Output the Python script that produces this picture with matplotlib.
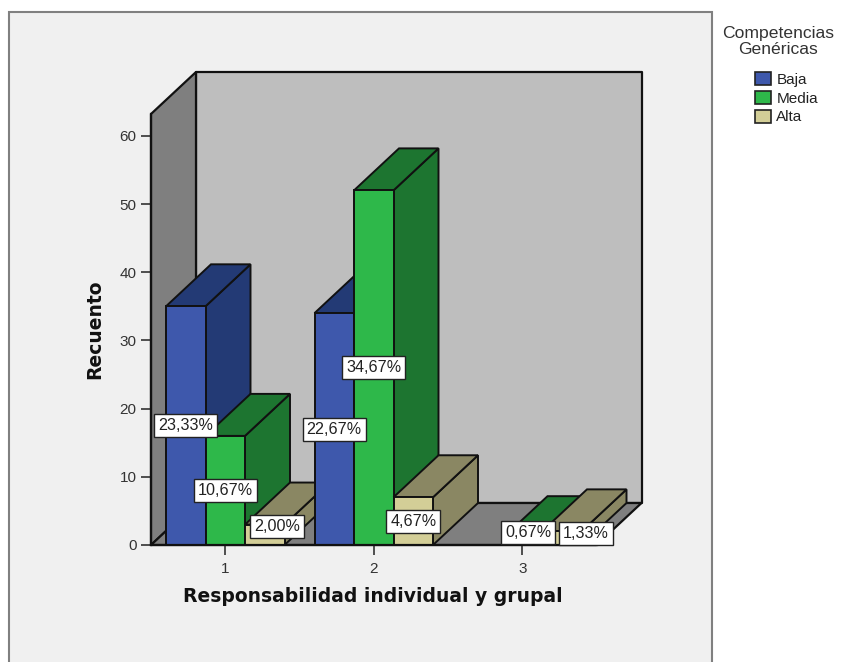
import matplotlib
matplotlib.use("Agg")
import matplotlib.pyplot as plt
from matplotlib.patches import Polygon, Rectangle, Patch

plt.rcParams['font.family'] = ['Liberation Sans', 'DejaVu Sans']

categories = [1, 2, 3]
series = ["Baja", "Media", "Alta"]
baja = [35, 34, 0]
media = [16, 52, 1]
alta = [3, 7, 2]
baja_pct = ["23,33%", "22,67%", ""]
media_pct = ["10,67%", "34,67%", "0,67%"]
alta_pct = ["2,00%", "4,67%", "1,33%"]
yticks = [0, 10, 20, 30, 40, 50, 60]

front = ["#3E58AC", "#2EB84A", "#D3CE97"]
side = ["#233A75", "#1D7530", "#8A8763"]

W, H = 851, 662
fig = plt.figure(figsize=(W / 100, H / 100), dpi=100, facecolor="white")

# outer chart frame, the bottom edge is cut off in the original
fig.add_artist(Rectangle((9 / W, 1 - 670 / H), 703 / W, 658 / H, transform=fig.transFigure,
                         facecolor="#F0F0F0", edgecolor="#808080", lw=1.5, zorder=-5))

ax = fig.add_axes([151 / W, 1 - 545 / H, 445.5 / W, 431 / H])
ax.set_xlim(0.5, 3.5)
ax.set_ylim(0, 63.2)
ax.patch.set_visible(False)

# depth of the fake 3d box, in data units
dx = 45 / 148.5
dy = 42 / 6.82
x0, x1, top = 0.5, 3.5, 63.2
edge = dict(edgecolor="#111111", lw=1.6, clip_on=False, joinstyle="round")

ax.add_patch(Polygon([(x0 + dx, dy), (x1 + dx, dy), (x1 + dx, top + dy), (x0 + dx, top + dy)],
                     facecolor="#BEBEBE", zorder=1, **edge))
ax.add_patch(Polygon([(x0, 0), (x0 + dx, dy), (x0 + dx, top + dy), (x0, top)],
                     facecolor="#7F7F7F", zorder=1, **edge))
ax.add_patch(Polygon([(x0, 0), (x1, 0), (x1 + dx, dy), (x0 + dx, dy)],
                     facecolor="#7F7F7F", zorder=1, **edge))

bw = 39.5 / 148.5
z = 2
for i, cat in enumerate(categories):
    for j, vals in enumerate([baja, media, alta]):
        v = vals[i]
        if v == 0:
            continue
        l = cat + (j - 1.5) * bw
        r = l + bw
        bar_edge = dict(edgecolor="#111111", lw=1.4, clip_on=False, zorder=z)
        ax.add_patch(Polygon([(r, 0), (r + dx, dy), (r + dx, v + dy), (r, v)], facecolor=side[j], **bar_edge))
        ax.add_patch(Polygon([(l, v), (r, v), (r + dx, v + dy), (l + dx, v + dy)], facecolor=side[j], **bar_edge))
        ax.add_patch(Polygon([(l, 0), (r, 0), (r, v), (l, v)], facecolor=front[j], **bar_edge))
        z += 1

# labels that SPSS pushed off the bar centre, in pixels
nudge = {(0, 2): (12, 8), (2, 1): (6, 9), (2, 2): (24, 5)}
for i, cat in enumerate(categories):
    for j, (vals, pct) in enumerate([(baja, baja_pct), (media, media_pct), (alta, alta_pct)]):
        if not pct[i]:
            continue
        ox, oy = nudge.get((i, j), (0, 0))
        ax.annotate(pct[i], (cat + (j - 1) * bw, vals[i] / 2), xytext=(ox * 0.72, oy * 0.72),
                    textcoords="offset points", ha="center", va="center", fontsize=11.6,
                    color="#222222", zorder=50, annotation_clip=False,
                    bbox=dict(boxstyle="square,pad=0.25", facecolor="white", edgecolor="#222222", lw=1.0))

for s in ["top", "right"]:
    ax.spines[s].set_visible(False)
for s in ["left", "bottom"]:
    ax.spines[s].set_linewidth(1.6)
    ax.spines[s].set_color("#111111")
    ax.spines[s].set_zorder(40)

ax.set_xticks(categories)
ax.set_yticks(yticks)
ax.tick_params(axis="both", length=7.5, width=1.2, color="#333333", labelsize=11,
               labelcolor="#333333", pad=3)
ax.tick_params(axis="x", pad=5)

fig.text(373 / W, 1 - 597 / H, "Responsabilidad individual y grupal", ha="center", va="center",
         fontsize=13.5, fontweight="bold", color="#111111", family="DejaVu Sans")
fig.text(95 / W, 1 - 329 / H, "Recuento", ha="center", va="center", rotation=90,
         fontsize=13.5, fontweight="bold", color="#111111", family="DejaVu Sans")

# legend title placed apart from the legend, it sits higher than matplotlib would put it
fig.text(778 / W, 1 - 41.5 / H, "Competencias\nGenéricas", ha="center", va="center", fontsize=12.6,
         linespacing=1.02, color="#333333")
handles = [Patch(facecolor=c, edgecolor="#222222", lw=1.2) for c in front]
fig.legend(handles, series, loc="upper left", bbox_to_anchor=(752 / W, 1 - 69 / H), frameon=False,
           fontsize=11, handlelength=1.05, handleheight=0.9, handletextpad=0.35,
           labelspacing=0.28, borderpad=0.2, borderaxespad=0, labelcolor="#222222")

fig.savefig("out.png", dpi=100, facecolor="white")
